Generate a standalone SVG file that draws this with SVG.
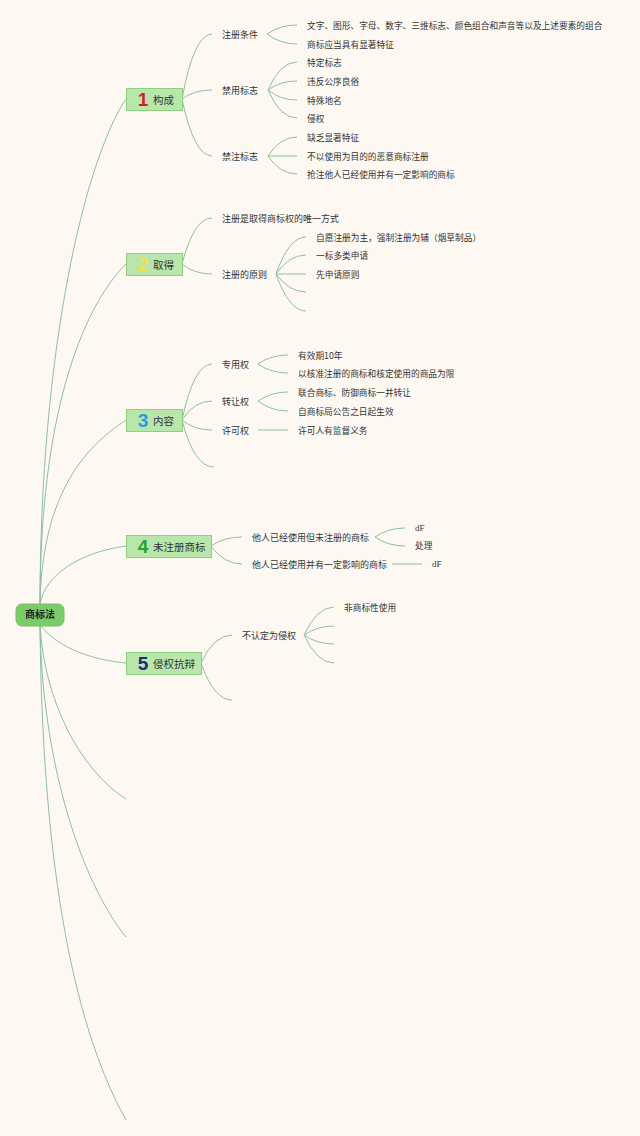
<svg xmlns="http://www.w3.org/2000/svg" width="640" height="1136" viewBox="0 0 640 1136">
<style>
.bg{fill:#fdf9f2}
.ln{fill:none;stroke:#8dbfa5;stroke-width:1}
.lf{font-family:"Noto Sans CJK SC","Noto Sans",sans-serif;font-size:8.7px;fill:#333}
.df{font-family:"Liberation Serif","Times New Roman",serif;font-size:9px;fill:#333}
.lb{font-family:"Noto Sans CJK SC","Noto Sans",sans-serif;font-size:9px;fill:#333}
.nb{fill:#b9e6aa;stroke:#8fcf7e;stroke-width:1}
.nt{font-family:"Noto Sans CJK SC","Noto Sans",sans-serif;font-size:10.5px;fill:#333}
.num{font-family:"Liberation Sans",Arial,sans-serif;font-size:19px;font-weight:bold}
.rt{font-family:"Noto Sans CJK SC","Noto Sans",sans-serif;font-size:10px;font-weight:bold;fill:#222}
</style>
<rect class="bg" x="0" y="0" width="640" height="1136"/>
<g id="connectors">
<path class="ln" d="M40,604 C40,350 85,160 126,99"/>
<path class="ln" d="M40,604 C40,420 80,310 126,264"/>
<path class="ln" d="M40,604 C42,500 80,450 126,420"/>
<path class="ln" d="M40,604 C45,575 80,552 126,546"/>
<path class="ln" d="M40,625 C60,650 95,660 126,663"/>
<path class="ln" d="M40,625 C44,700 80,770 126,799"/>
<path class="ln" d="M40,625 C42,760 80,880 126,937"/>
<path class="ln" d="M40,625 C42,850 70,1020 126,1120"/>
<path class="ln" d="M182,99 Q194,34 212,34"/>
<path class="ln" d="M182,99 Q194,90 212,90"/>
<path class="ln" d="M182,99 Q194,156 212,156"/>
<path class="ln" d="M267,34 Q280,25 297,25"/>
<path class="ln" d="M267,34 Q280,44 297,44"/>
<path class="ln" d="M268,90 Q280,62 297,62"/>
<path class="ln" d="M268,90 Q280,81 297,81"/>
<path class="ln" d="M268,90 Q280,100 297,100"/>
<path class="ln" d="M268,90 Q280,118 297,118"/>
<path class="ln" d="M268,156 Q280,137 297,137"/>
<path class="ln" d="M268,156 L297,156"/>
<path class="ln" d="M268,156 Q280,174 297,174"/>
<path class="ln" d="M182,264 Q194,218 212,218"/>
<path class="ln" d="M182,264 Q194,274 212,274"/>
<path class="ln" d="M276,274 Q289,237 306,237"/>
<path class="ln" d="M276,274 Q289,255 306,255"/>
<path class="ln" d="M276,274 L306,274"/>
<path class="ln" d="M276,274 Q289,292 306,292"/>
<path class="ln" d="M276,274 Q289,311 306,311"/>
<path class="ln" d="M182,420 Q194,364 212,364"/>
<path class="ln" d="M182,420 Q194,401 212,401"/>
<path class="ln" d="M182,420 Q194,430 212,430"/>
<path class="ln" d="M182,420 Q194,467 214,467"/>
<path class="ln" d="M258,364 Q271,355 288,355"/>
<path class="ln" d="M258,364 Q271,373 288,373"/>
<path class="ln" d="M258,401 Q271,392 288,392"/>
<path class="ln" d="M258,401 Q271,411 288,411"/>
<path class="ln" d="M258,430 L288,430"/>
<path class="ln" d="M211,546 Q224,537 242,537"/>
<path class="ln" d="M211,546 Q224,564 242,564"/>
<path class="ln" d="M375,537 Q388,528 405,528"/>
<path class="ln" d="M375,537 Q388,546 405,546"/>
<path class="ln" d="M392,564 L422,564"/>
<path class="ln" d="M201,663 Q214,635 232,635"/>
<path class="ln" d="M201,663 Q214,700 232,700"/>
<path class="ln" d="M304,635 Q317,607 334,607"/>
<path class="ln" d="M304,635 Q317,626 334,626"/>
<path class="ln" d="M304,635 Q317,644 334,644"/>
<path class="ln" d="M304,635 Q317,663 334,663"/>
</g>
<g id="root">
<rect x="16" y="604" width="48" height="22" rx="6" fill="#7ccb6b" stroke="#74c262"/>
<text class="rt" x="40" y="618" text-anchor="middle">商标法</text>
</g>
<g id="n1">
<rect class="nb" x="126.5" y="88.5" width="56" height="22"/>
<text class="num" x="143" y="106" text-anchor="middle" fill="#d41f26">1</text>
<text class="nt" x="153" y="103.5">构成</text>
</g>
<g id="n1a"><text class="lb" x="222" y="37.5">注册条件</text></g>
<g id="n1b"><text class="lb" x="222" y="93.5">禁用标志</text></g>
<g id="n1c"><text class="lb" x="222" y="159.5">禁注标志</text></g>
<g id="n1a1"><text class="lf" x="307" y="28.5">文字、图形、字母、数字、三维标志、颜色组合和声音等以及上述要素的组合</text></g>
<g id="n1a2"><text class="lf" x="307" y="47.5">商标应当具有显著特征</text></g>
<g id="n1b1"><text class="lf" x="307" y="65.5">特定标志</text></g>
<g id="n1b2"><text class="lf" x="307" y="84.5">违反公序良俗</text></g>
<g id="n1b3"><text class="lf" x="307" y="103.5">特殊地名</text></g>
<g id="n1b4"><text class="lf" x="307" y="121.5">侵权</text></g>
<g id="n1c1"><text class="lf" x="307" y="140.5">缺乏显著特征</text></g>
<g id="n1c2"><text class="lf" x="307" y="159.5">不以使用为目的的恶意商标注册</text></g>
<g id="n1c3"><text class="lf" x="307" y="177.5">抢注他人已经使用并有一定影响的商标</text></g>
<g id="n2">
<rect class="nb" x="126.5" y="253.5" width="56" height="22"/>
<text class="num" x="143" y="271" text-anchor="middle" fill="#f5e04f">2</text>
<text class="nt" x="153" y="268.5">取得</text>
</g>
<g id="n2a"><text class="lb" x="222" y="221.5">注册是取得商标权的唯一方式</text></g>
<g id="n2b"><text class="lb" x="222" y="277.5">注册的原则</text></g>
<g id="n2b1"><text class="lf" x="316" y="240.5">自愿注册为主，强制注册为辅（烟草制品）</text></g>
<g id="n2b2"><text class="lf" x="316" y="258.5">一标多类申请</text></g>
<g id="n2b3"><text class="lf" x="316" y="277.5">先申请原则</text></g>
<g id="n3">
<rect class="nb" x="126.5" y="409.5" width="56" height="22"/>
<text class="num" x="143" y="427" text-anchor="middle" fill="#2b9bd9">3</text>
<text class="nt" x="153" y="424.5">内容</text>
</g>
<g id="n3a"><text class="lb" x="222" y="367.5">专用权</text></g>
<g id="n3b"><text class="lb" x="222" y="404.5">转让权</text></g>
<g id="n3c"><text class="lb" x="222" y="433.5">许可权</text></g>
<g id="n3a1"><text class="lf" x="298" y="358.5">有效期10年</text></g>
<g id="n3a2"><text class="lf" x="298" y="376.5">以核准注册的商标和核定使用的商品为限</text></g>
<g id="n3b1"><text class="lf" x="298" y="395.5">联合商标、防御商标一并转让</text></g>
<g id="n3b2"><text class="lf" x="298" y="414.5">自商标局公告之日起生效</text></g>
<g id="n3c1"><text class="lf" x="298" y="433.5">许可人有监督义务</text></g>
<g id="n4">
<rect class="nb" x="126.5" y="535.5" width="85" height="22"/>
<text class="num" x="143" y="553" text-anchor="middle" fill="#2ba12f">4</text>
<text class="nt" x="153" y="550.5">未注册商标</text>
</g>
<g id="n4a"><text class="lb" x="252" y="540.5">他人已经使用但未注册的商标</text></g>
<g id="n4b"><text class="lb" x="252" y="567.5">他人已经使用并有一定影响的商标</text></g>
<g id="n4a1"><text class="df" x="415" y="531">dF</text></g>
<g id="n4a2"><text class="lf" x="415" y="548.5">处理</text></g>
<g id="n4b1"><text class="df" x="432" y="567">dF</text></g>
<g id="n5">
<rect class="nb" x="126.5" y="652.5" width="75" height="22"/>
<text class="num" x="143" y="670" text-anchor="middle" fill="#1b2d78">5</text>
<text class="nt" x="153" y="667.5">侵权抗辩</text>
</g>
<g id="n5a"><text class="lb" x="242" y="638.5">不认定为侵权</text></g>
<g id="n5a1"><text class="lf" x="344" y="610.5">非商标性使用</text></g>
</svg>
